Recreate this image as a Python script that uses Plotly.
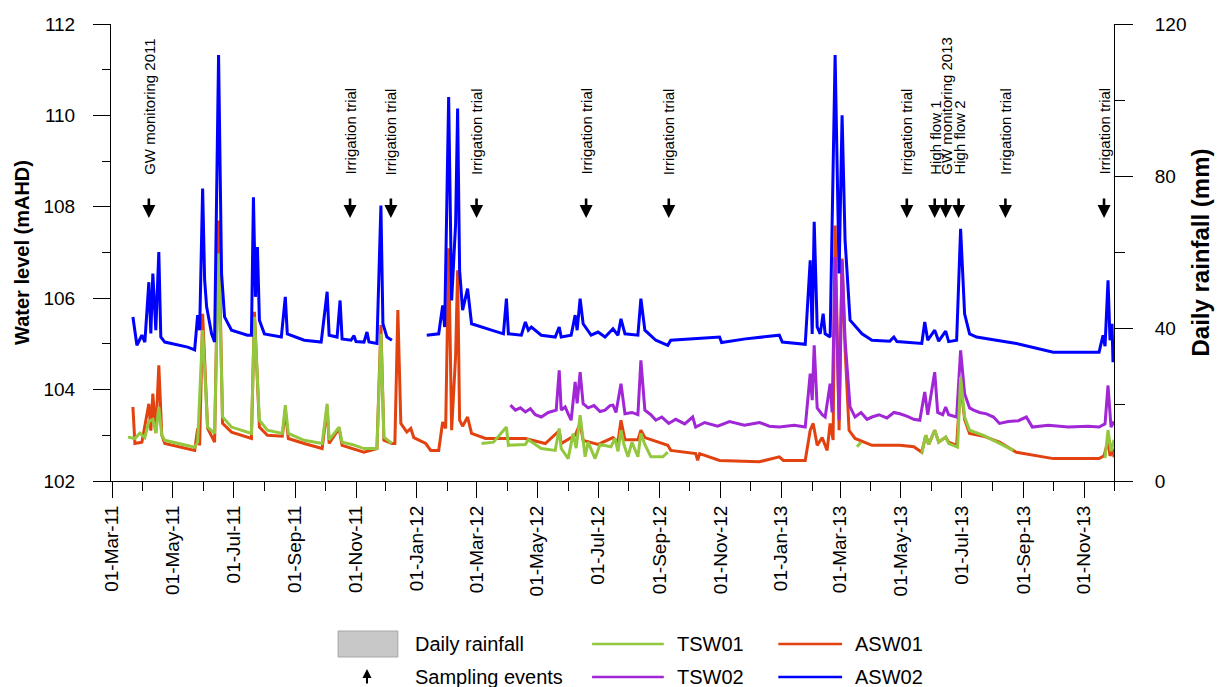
import pandas as pd
import plotly.graph_objects as go

# Logger records: day offset from 1 March 2011 and water level (mAHD); None marks a logging gap
START = pd.Timestamp("2011-03-01")

asw02_day = [21, 25, 30, 33, 37, 39, 41, 44, 47, 49, 53, 76, 83, 86, 88, 91, 93, 95, 100, 103, 107,
             110, 113, 120, 136, 140, 142, 144, 146, 148, 153, 170, 174, 176, 193, 210, 211, 216,
             218, 226, 229, 231, 240, 243, 245, 253, 256, 258, 266, 270, 272, 276, 281, 298,
             316, 328, 332, 334, 338, 341, 345, 347, 349, 352, 357, 361, 381, 393, 396, 398, 411,
             415, 418, 421, 431, 445, 449, 451, 461, 465, 467, 470, 473, 481, 488, 495, 503, 508,
             511, 515, 528, 531, 535, 546, 558, 561, 610, 612, 636, 670, 673, 696, 701, 703, 705,
             708, 711, 714, 716, 721, 726, 730, 733, 736, 741, 753, 763, 781, 785, 788, 813, 816,
             819, 826, 830, 837, 840, 848, 852, 854, 856, 861, 868, 908, 931, 945, 991, 995, 997,
             1000, 1002, 1004, 1005, 1006]
asw02_level = [105.59, 104.97, 105.19, 105.04, 106.35, 105.23, 106.54, 105.30, 107.01, 105.15,
               105.04, 104.93, 104.87, 105.63, 105.30, 108.40, 106.40, 105.81, 105.22, 105.04, 111.32,
               106.54, 105.59, 105.30, 105.19, 105.19, 108.21, 106.03, 107.12, 105.52, 105.22,
               105.15, 106.03, 105.22, 105.08, 105.04, 105.22, 106.14, 105.19, 105.15, 105.95,
               105.11, 105.08, 105.18, 105.05, 105.04, 105.26, 105.04, 105.01, 108.03, 105.44,
               105.15, 105.08, None,
               105.19, 105.22, 105.84, 105.37, 110.40, 105.95, 107.63, 110.15, 106.61, 105.74,
               106.21, 105.44, 105.30, 105.22, 105.99, 105.22, 105.19, 105.48, 105.30, 105.37,
               105.19, 105.15, 105.37, 105.15, 105.19, 105.63, 105.30, 105.99, 105.44, 105.19,
               105.26, 105.15, 105.33, 105.19, 105.55, 105.22, 105.19, 105.99, 105.30, 105.08,
               104.97, 105.08, 105.15, 105.03, 105.11, 105.19, 105.04, 104.99, 106.83, 105.22,
               107.67, 105.37, 105.22, 105.66, 105.22, 105.15, 111.32, 106.54, 110.00, 107.27,
               105.52, 105.22, 105.08, 105.06, 105.15, 105.05, 105.01, 105.48, 105.08, 105.30,
               105.06, 105.28, 105.05, 105.08, 107.52, 106.54, 105.66, 105.22, 105.15, 105.01,
               104.90, 104.82, 104.82, 105.19, 104.95, 106.39, 105.08, 105.44, 104.60, 105.08]

asw01_day = [21, 23, 30, 37, 39, 41, 44, 47, 50, 53, 83, 86, 88, 91, 96, 103, 107, 111, 120, 140,
             143, 148, 156, 171, 174, 177, 193, 211, 216, 218, 228, 231, 253, 266, 270, 273, 281,
             284, 287, 290, 296, 300, 303, 315, 320, 328, 332, 335, 338, 341, 345, 347, 349, 352,
             357, 361, 375, 415, 435, 449, 451, 465, 470, 473, 488, 503, 508, 511, 515, 528, 531,
             535, 558, 561, 586, 588, 590, 610, 650, 670, 674, 696, 701, 704, 708, 713, 718, 721,
             724, 726, 730, 733, 736, 740, 746, 763, 791, 805, 813, 817, 820, 826, 830, 837, 840,
             848, 852, 856, 861, 875, 891, 908, 945, 991, 996, 1000, 1002, 1005, 1006]
asw01_level = [103.62, 102.82, 102.85, 103.69, 103.10, 103.91, 103.05, 104.53, 103.00, 102.82,
               102.67, 103.15, 102.78, 105.66, 103.15, 102.85, 107.70, 103.26, 103.07, 102.93,
               105.70, 103.18, 103.00, 102.98, 103.55, 102.93, 102.82, 102.71, 103.62, 102.82,
               103.15, 102.78, 102.63, 102.71, 105.41, 102.89, 102.82, 102.82, 105.74, 103.26,
               103.07, 103.15, 102.95, 102.82, 102.67, 102.67, 103.29, 103.15, 107.09, 103.11,
               104.75, 106.61, 103.33, 103.20, 103.40, 103.04, 102.93, 102.93, 102.82, 103.10,
               102.82, 103.00, 103.26, 102.89, 102.80, 102.95, 102.85, 103.33, 102.90, 102.90,
               103.11, 102.95, 102.78, 102.67, 102.60, 102.45, 102.60, 102.45, 102.42, 102.53,
               102.45, 102.45, 103.11, 103.26, 102.78, 102.95, 102.67, 103.26, 102.90, 107.59,
               103.11, 106.87, 104.90, 103.11, 102.93, 102.78, 102.78, 102.75, 102.63, 103.00,
               102.80, 103.11, 102.85, 102.96, 102.85, 102.78, 104.13, 103.35, 103.04, 102.98,
               102.85, 102.63, 102.49, 102.49, 102.55, 102.89, 102.55, 102.70, 102.52]

tsw01_day = [16, 23, 28, 33, 37, 41, 44, 47, 50, 53, 83, 86, 91, 96, 103, 107, 111, 120, 140, 143,
             148, 156, 171, 174, 177, 193, 211, 216, 218, 228, 231, 241, 253, 266, 270, 273, 281,
             300, 371, 383, 396, 398, 415, 418, 431, 445, 449, 451, 458, 463, 466, 470, 473, 475,
             478, 485, 490, 501, 505, 508, 511, 514, 518, 522, 528, 531, 535, 541, 553, 558, 600,
             748, 752, 780, 813, 817, 820, 826, 830, 837, 840, 849, 852, 856, 861, 875, 905, 950,
             997, 1000, 1003, 1006]
tsw01_level = [102.96, 102.93, 103.05, 102.95, 103.30, 103.35, 103.05, 103.62, 103.00, 102.89,
               102.74, 102.85, 105.30, 103.18, 103.04, 106.98, 103.40, 103.18, 103.04, 105.59,
               103.33, 103.11, 103.04, 103.66, 103.04, 102.89, 102.82, 103.69, 102.90, 103.18,
               102.85, 102.80, 102.71, 102.71, 105.22, 102.96, 102.82, None,
               102.82, 102.85, 103.18, 102.78, 102.80, 102.90, 102.71, 102.67, 103.15, 102.71,
               102.49, 103.04, 102.72, 103.44, 102.90, 102.53, 102.85, 102.49, 102.80, 102.75,
               102.93, 102.65, 103.11, 102.80, 102.53, 102.85, 102.53, 103.04, 102.80, 102.53,
               102.53, 102.63, None,
               102.75, 102.85, None,
               102.60, 103.00, 102.80, 103.11, 102.85, 102.96, 102.82, 102.74, 104.28, 103.40,
               103.11, 103.00, 102.67, None,
               102.50, 103.11, 102.65, 102.90]

tsw02_day = [400, 405, 410, 415, 420, 425, 431, 438, 446, 449, 451, 455, 458, 461, 465, 467, 470,
             473, 478, 484, 490, 495, 500, 503, 506, 511, 515, 522, 528, 531, 535, 541, 546, 552,
             559, 566, 575, 583, 586, 595, 608, 620, 635, 650, 660, 670, 685, 696, 701, 703, 705,
             708, 713, 716, 721, 723, 726, 730, 733, 736, 741, 746, 752, 758, 763, 770, 778, 785,
             791, 798, 805, 811, 816, 819, 826, 829, 834, 837, 840, 848, 852, 856, 861, 865, 871,
             878, 885, 891, 900, 910, 918, 924, 940, 960, 980, 991, 997, 1000, 1003, 1006]
tsw02_level = [103.66, 103.55, 103.60, 103.51, 103.58, 103.45, 103.40, 103.50, 103.55, 104.42,
               103.55, 103.62, 103.47, 103.33, 104.17, 103.70, 104.38, 103.69, 103.60, 103.65,
               103.52, 103.55, 103.65, 103.66, 103.50, 104.13, 103.47, 103.50, 103.45, 104.64,
               103.55, 103.45, 103.33, 103.40, 103.26, 103.35, 103.25, 103.40, 103.18, 103.28,
               103.20, 103.30, 103.22, 103.28, 103.20, 103.18, 103.22, 103.18, 104.35, 103.77,
               104.97, 103.60, 103.45, 103.40, 104.13, 103.50, 106.90, 103.33, 106.83, 105.08,
               103.62, 103.40, 103.50, 103.35, 103.40, 103.45, 103.38, 103.50, 103.47, 103.42,
               103.35, 103.33, 103.95, 103.45, 104.38, 103.50, 103.45, 103.62, 103.45, 103.40,
               104.86, 103.91, 103.60, 103.55, 103.50, 103.47, 103.40, 103.26, 103.30, 103.32,
               103.40, 103.18, 103.22, 103.18, 103.20, 103.18, 103.25, 104.09, 103.18, 103.30]

# Sampling events
event_day = [37, 239, 280, 366, 476, 559, 798, 826, 837, 850, 897, 996]
event_label = ["GW monitoring 2011", "Irrigation trial", "Irrigation trial", "Irrigation trial",
               "Irrigation trial", "Irrigation trial", "Irrigation trial", "High flow 1",
               "GW monitoring 2013", "High flow 2", "Irrigation trial", "Irrigation trial"]

series = [
    ("ASW01", asw01_day, asw01_level, "#E2420F"),
    ("TSW02", tsw02_day, tsw02_level, "#A126D6"),
    ("TSW01", tsw01_day, tsw01_level, "#93C83E"),
    ("ASW02", asw02_day, asw02_level, "#0000FF"),
]


def to_dates(days):
    return [START + pd.Timedelta(days=d) for d in days]


# Figure geometry (pixels)
W, H = 1221, 687
ML, MR, MT, MB = 111, 103, 24, 206
PW, PH = W - ML - MR, H - MT - MB


def px(x):
    return (x - ML) / PW


def py(y):
    return (H - MB - y) / PH


FONT = "Liberation Sans, Arial, sans-serif"

fig = go.Figure()
for name, days, level, color in series:
    fig.add_trace(go.Scatter(x=to_dates(days), y=level, mode="lines", name=name,
                             line=dict(color=color, width=3), connectgaps=False,
                             showlegend=False))

# rainfall axis
fig.add_trace(go.Scatter(x=[], y=[], yaxis="y2", showlegend=False, hoverinfo="skip"))

annotations = []
for d, label in zip(event_day, event_label):
    xd = START + pd.Timedelta(days=d)
    annotations.append(dict(x=xd, xref="x", y=py(177), yref="paper", text=label,
                            textangle=-90, xanchor="center", yanchor="bottom",
                            showarrow=False, font=dict(family=FONT, size=15, color="black")))
    annotations.append(dict(x=xd, xref="x", y=py(218), yref="paper", text="",
                            showarrow=True, ax=0, ay=-21, arrowhead=2, arrowsize=1.0,
                            arrowwidth=2.6, arrowcolor="black"))

shapes = []
# legend block
shapes.append(dict(type="rect", xref="paper", yref="paper", x0=px(339), x1=px(399),
                   y0=py(657), y1=py(631), fillcolor="#C8C8C8", line=dict(color="#A6A6A6", width=1)))
annotations.append(dict(x=px(368), xref="paper", y=py(669), yref="paper", text="",
                        showarrow=True, ax=0, ay=16, arrowhead=2, arrowsize=0.9,
                        arrowwidth=2, arrowcolor="black"))
legend_rows = [("Daily rainfall", 414, 644), ("Sampling events", 414, 677)]
line_items = [("TSW01", "#93C83E", 594, 666, 677, 644), ("TSW02", "#A126D6", 594, 666, 677, 677),
              ("ASW01", "#E2420F", 781, 845, 856, 644), ("ASW02", "#0000FF", 781, 845, 856, 677)]
for text, x, y in legend_rows:
    annotations.append(dict(x=px(x), xref="paper", y=py(y), yref="paper", text=text,
                            xanchor="left", yanchor="middle", showarrow=False,
                            font=dict(family=FONT, size=20, color="black")))
for text, color, x0, x1, xt, y in line_items:
    shapes.append(dict(type="line", xref="paper", yref="paper", x0=px(x0), x1=px(x1),
                       y0=py(y), y1=py(y), line=dict(color=color, width=2.5)))
    annotations.append(dict(x=px(xt), xref="paper", y=py(y), yref="paper", text=text,
                            xanchor="left", yanchor="middle", showarrow=False,
                            font=dict(family=FONT, size=20, color="black")))

fig.update_layout(
    width=W, height=H, autosize=False,
    margin=dict(l=ML, r=MR, t=MT, b=MB, pad=0),
    paper_bgcolor="white", plot_bgcolor="white",
    font=dict(family=FONT, size=19, color="black"),
    xaxis=dict(
        type="date", range=[START - pd.Timedelta(days=1), START + pd.Timedelta(days=1006)],
        tick0="2011-03-01", dtick="M2", tickformat="%d-%b-%y", tickangle=-90,
        ticks="outside", ticklen=16, tickwidth=1, tickcolor="black",
        minor=dict(dtick="M1", ticks="outside", ticklen=9, tickcolor="black", tickwidth=1),
        showline=True, linecolor="black", linewidth=1, showgrid=False, zeroline=False,
        tickfont=dict(family=FONT, size=19),
    ),
    yaxis=dict(
        range=[102, 112], dtick=2, tick0=102, ticks="outside", ticklen=17, tickwidth=1,
        tickcolor="black", ticklabelstandoff=14,
        minor=dict(dtick=1, ticks="outside", ticklen=8, tickcolor="black", tickwidth=1),
        showline=True, linecolor="black", linewidth=1, showgrid=False, zeroline=False,
        title=dict(text="<b>Water level (mAHD)</b>", font=dict(family=FONT, size=20), standoff=8),
        tickfont=dict(family=FONT, size=19),
    ),
    yaxis2=dict(
        range=[0, 120], dtick=40, tick0=0, overlaying="y", side="right", anchor="x",
        ticks="outside", ticklen=18, tickwidth=1, tickcolor="black", ticklabelstandoff=18,
        minor=dict(dtick=20, ticks="outside", ticklen=10, tickcolor="black", tickwidth=1),
        showline=True, linecolor="black", linewidth=1, showgrid=False, zeroline=False,
        title=dict(text="<b>Daily rainfall (mm)</b>", font=dict(family=FONT, size=24), standoff=6),
        tickfont=dict(family=FONT, size=19),
    ),
    annotations=annotations,
    shapes=shapes,
    showlegend=False,
)

fig.write_html("out.html")
